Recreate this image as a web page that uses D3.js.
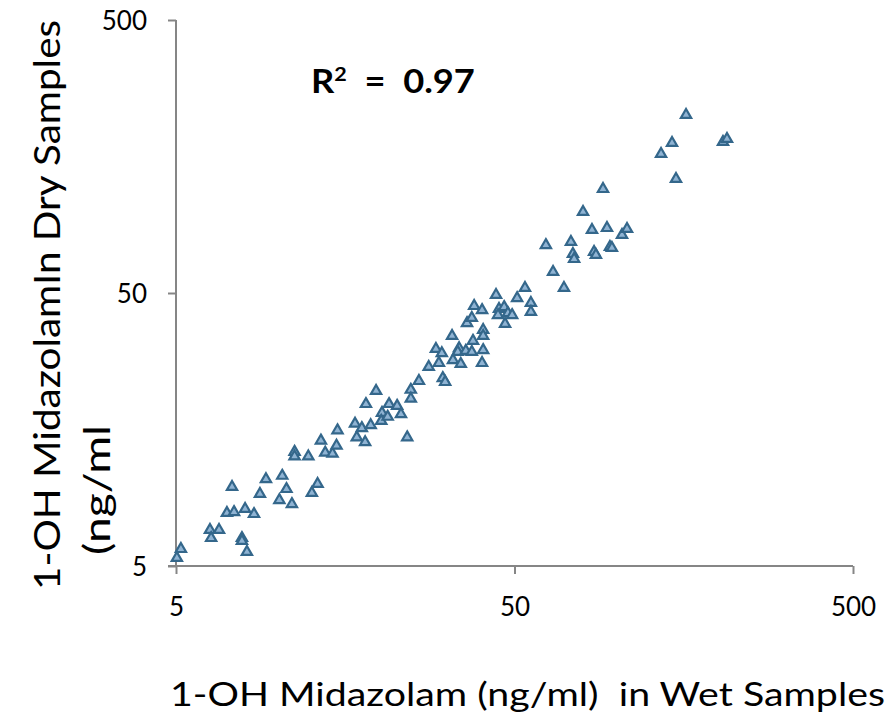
<!DOCTYPE html>
<html>
<head>
<meta charset="utf-8">
<script src="https://cdn.jsdelivr.net/npm/d3@7"></script>
<style>
  body { margin: 0; background: #fff; }
  text { font-family: Lato, "Open Sans", sans-serif; fill: #000; white-space: pre; }
</style>
</head>
<body>
<svg id="chart" width="887" height="723"></svg>
<script>
// wet sample concentration (x) and dry sample concentration (y), ng/ml
const wetValues = [5.03, 5.17, 6.30, 6.70, 6.35, 7.07, 7.42, 8.00, 8.50, 7.32,
  7.83, 7.83, 8.10, 8.85, 9.22, 10.3, 10.6, 10.1, 11.0, 12.6,
  13.1, 11.2, 11.2, 12.3, 13.4, 13.8, 14.5, 14.9, 15.0, 16.9,
  17.7, 17.1, 18.1, 18.8, 18.2, 19.5, 20.3, 20.2, 21.1, 21.3,
  22.5, 23.1, 24.1, 24.7, 24.7, 26.1, 27.9, 30.7, 31.2, 29.3,
  30.5, 29.9, 32.7, 34.3, 34.0, 35.9, 37.4, 32.9, 34.7, 36.2,
  37.4, 38.0, 37.7, 40.4, 40.4, 40.1, 40.1, 45.0, 46.6, 44.7,
  47.8, 49.2, 46.9, 44.1, 50.9, 53.7, 55.9, 55.9, 65.0, 70.0,
  61.9, 73.4, 74.4, 75.0, 85.9, 87.0, 95.7, 97.0, 84.7, 93.8,
  103.9, 107.5, 79.7, 91.3, 135.5, 146.0, 160.6, 150.0, 206.5, 212.2,
  40.4]
const dryValues = [5.35, 5.77, 6.78, 6.78, 6.33, 7.82, 7.88, 8.09, 7.75, 9.74,
  6.33, 6.18, 5.63, 9.18, 10.4, 10.7, 9.57, 8.72, 8.43, 9.26,
  9.99, 13.1, 12.6, 12.6, 14.4, 13.0, 12.9, 13.8, 15.7, 16.6,
  16.0, 14.8, 14.2, 16.4, 19.6, 21.9, 18.2, 17.0, 17.6, 19.6,
  19.3, 18.0, 14.8, 22.1, 20.5, 23.8, 26.8, 24.4, 23.6, 31.2,
  30.1, 27.7, 34.8, 31.4, 30.4, 30.7, 30.4, 28.4, 27.5, 38.8,
  40.5, 44.8, 33.4, 36.6, 34.8, 27.7, 43.3, 43.7, 44.4, 41.5,
  42.2, 41.5, 38.5, 49.2, 47.9, 52.2, 46.0, 42.6, 59.7, 52.2,
  74.9, 76.9, 69.5, 66.6, 70.7, 68.9, 73.7, 73.1, 85.1, 86.5,
  81.6, 85.8, 99.1, 120.2, 161.5, 177.2, 224.4, 130.8, 178.7, 183.3,
  30.9]
const tickValues = [5, 50, 500]
const rSquared = "0.97"

const svg = d3.select("#chart")
const axisColor = "#868686"

const x = d3.scaleLog().domain([5, 500]).range([176, 853])
const y = d3.scaleLog().domain([5, 500]).range([566, 20])

// axes
const xAxis = svg.append("g")
  .attr("transform", "translate(0,566)")
  .call(d3.axisBottom(x).tickValues(tickValues).tickSize(8).tickFormat(d3.format("d")))
const yAxis = svg.append("g")
  .attr("transform", "translate(176,0)")
  .call(d3.axisLeft(y).tickValues(tickValues).tickSize(8).tickFormat(d3.format("d")))

svg.selectAll(".domain").remove()
xAxis.append("line").attr("x1", 168).attr("x2", 853)
yAxis.append("line").attr("y1", 20).attr("y2", 566)
svg.selectAll("g line").attr("stroke", axisColor).attr("stroke-width", 2)

xAxis.selectAll("text")
  .attr("y", 41).attr("dy", "0.35em")
  .style("font-size", "26px")
  .attr("fill", "#000")
yAxis.selectAll("text")
  .attr("x", -29).attr("dy", "0.35em")
  .style("font-size", "26px")
  .attr("fill", "#000")

// points
svg.append("g").selectAll("path")
  .data(wetValues.map((d, i) => [d, dryValues[i]]))
  .enter()
  .append("path")
  .attr("d", d3.symbol().type(d3.symbolTriangle).size(46))
  .attr("transform", d => "translate(" + x(d[0]) + "," + y(d[1]) + ")")
  .attr("fill", "#8fb3d3")
  .attr("stroke", "#34678b")
  .attr("stroke-width", 2.2)

// R squared label, stretched to the width it has in the original
const r2g = svg.append("g")
const r2 = r2g.append("text")
  .style("font-size", "32px").style("font-weight", "bold")
r2.append("tspan").text("R")
r2.append("tspan").text("2").attr("dy", -12).style("font-size", "19px")
r2.append("tspan").text("  =  " + rSquared).attr("dy", 12)
const r2w = r2.node().getBBox().width
r2g.attr("transform", "translate(311,93) scale(" + (164 / r2w) + ",1)")

// axis titles
svg.append("text")
  .attr("x", 170).attr("y", 706)
  .attr("textLength", 715).attr("lengthAdjust", "spacingAndGlyphs")
  .style("font-size", "33px")
  .text("1-OH Midazolam (ng/ml)  in Wet Samples")

svg.append("text")
  .attr("transform", "translate(60,590) rotate(-90)")
  .attr("textLength", 570).attr("lengthAdjust", "spacingAndGlyphs")
  .style("font-size", "37px")
  .text("1-OH MidazolamIn Dry Samples")
svg.append("text")
  .attr("transform", "translate(110,555) rotate(-90)")
  .attr("textLength", 130).attr("lengthAdjust", "spacingAndGlyphs")
  .style("font-size", "37px")
  .text("(ng/ml")
</script>
</body>
</html>
